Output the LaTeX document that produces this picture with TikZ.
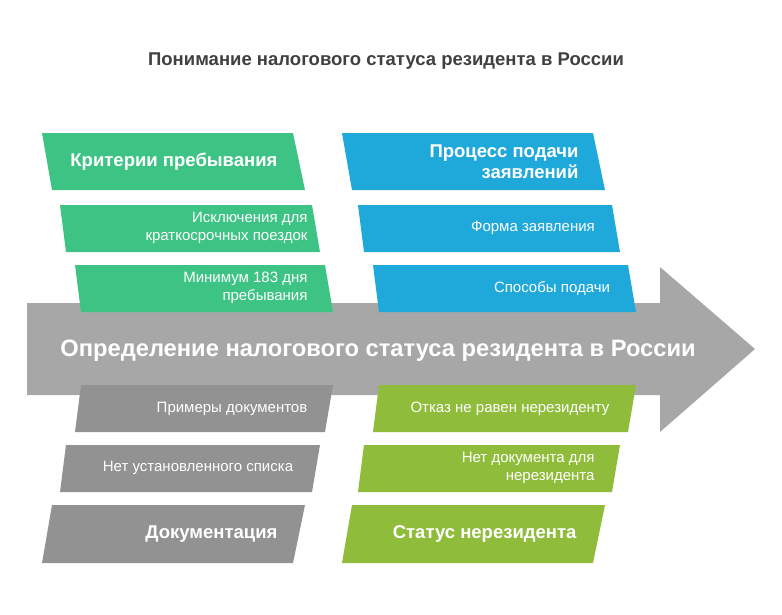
\documentclass[tikz,border=0pt]{standalone}
\usepackage{fontspec}
\setmainfont{Liberation Sans}
\begin{document}
\begin{tikzpicture}[x=1pt,y=-1pt,
  hd/.style={font=\bfseries\fontsize{18.5}{21}\selectfont,text=white,align=right,anchor=east},
  sm/.style={font=\fontsize{15}{18}\selectfont,text=white,align=right,anchor=east},
  smc/.style={font=\fontsize{15}{18}\selectfont,text=white,align=center}]
\definecolor{cg}{HTML}{3DC484}
\definecolor{cb}{HTML}{1FA9DB}
\definecolor{cgr}{HTML}{929292}
\definecolor{cl}{HTML}{8FBD3B}
\definecolor{ca}{HTML}{A7A7A7}
\useasboundingbox (0,0) rectangle (782,614);
\fill[white] (0,0) rectangle (782,614);
\node[font=\bfseries\fontsize{18.5}{21}\selectfont,text=black!75] (title) at (386,61) {Понимание налогового статуса резидента в России};
% arrow
\fill[ca] (27,303) -- (660,303) -- (660,267) -- (755,349) -- (660,432) -- (660,395) -- (27,395) -- cycle;
\node[font=\bfseries\fontsize{23.7}{27}\selectfont,text=white] (main) at (378,351) {Определение налогового статуса резидента в России};
% top green
\fill[cg] (42,133) -- (293,133) -- (305,190) -- (52,190) -- cycle;
\node[hd] (g1) at (281,162) {Критерии пребывания};
\fill[cg] (60,205) -- (312,205) -- (320,252) -- (66,252) -- cycle;
\node[sm] (g2) at (311,228) {Исключения для\\краткосрочных поездок};
\fill[cg] (75,265) -- (325,265) -- (333,312) -- (81,312) -- cycle;
\node[sm] (g3) at (311,288) {Минимум 183 дня\\пребывания};
% top blue
\fill[cb] (342,133) -- (593,133) -- (605,190) -- (352,190) -- cycle;
\node[hd] (b1) at (582,162) {Процесс подачи\\заявлений};
\fill[cb] (358,205) -- (612,205) -- (620,252) -- (364,252) -- cycle;
\node[smc] (b2) at (533,228) {Форма заявления};
\fill[cb] (373,265) -- (628,265) -- (636,312) -- (379,312) -- cycle;
\node[smc] (b3) at (552,288) {Способы подачи};
% bottom gray
\fill[cgr] (81,385) -- (333,385) -- (325,432) -- (75,432) -- cycle;
\node[smc] (d1) at (232,409) {Примеры документов};
\fill[cgr] (66,445) -- (320,445) -- (312,492) -- (60,492) -- cycle;
\node[smc] (d2) at (198,468) {Нет установленного списка};
\fill[cgr] (52,505) -- (305,505) -- (293,563) -- (42,563) -- cycle;
\node[hd] (d3) at (281,534) {Документация};
% bottom lime
\fill[cl] (379,385) -- (636,385) -- (628,432) -- (373,432) -- cycle;
\node[smc] (l1) at (510,409) {Отказ не равен нерезиденту};
\fill[cl] (364,445) -- (620,445) -- (612,492) -- (358,492) -- cycle;
\node[sm] (l2) at (598,468) {Нет документа для\\нерезидента};
\fill[cl] (352,505) -- (605,505) -- (593,563) -- (342,563) -- cycle;
\node[hd] (l3) at (580,534) {Статус нерезидента};
\end{tikzpicture}
\end{document}
